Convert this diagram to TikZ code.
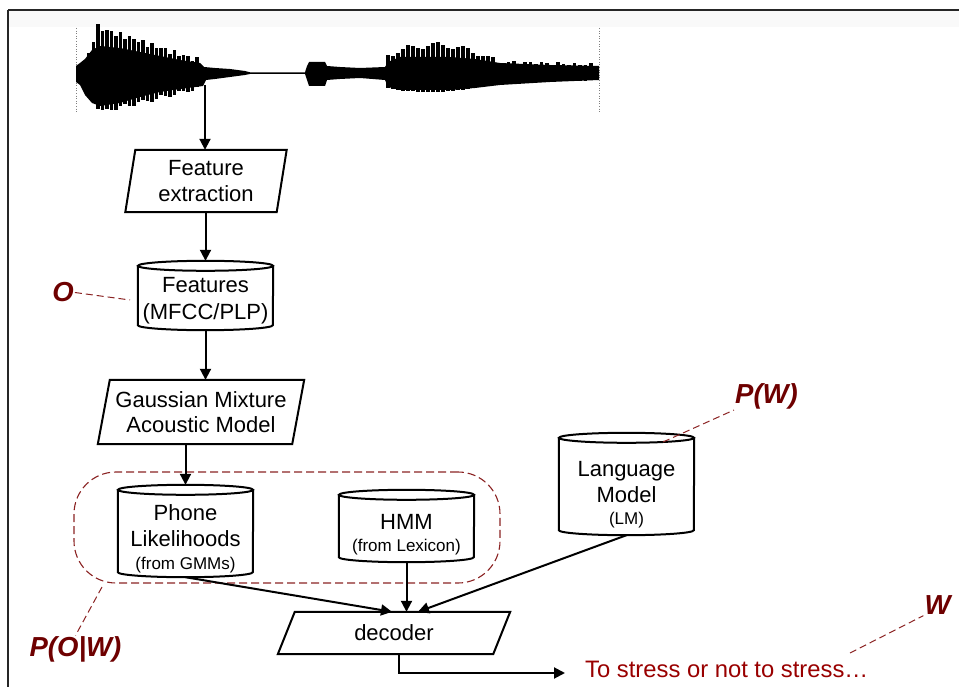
\documentclass[tikz,border=0pt]{standalone}
\usepackage{fontspec}
\setmainfont{Liberation Sans}
\usetikzlibrary{arrows.meta,calc}
\definecolor{lblred}{HTML}{6E0000}
\definecolor{dashred}{HTML}{8B2323}
\definecolor{txtred}{HTML}{990000}
\newcommand\drawcyl[2]{%
  \draw[shapeline] ([yshift=-5pt]#1.north west) -- ([yshift=5pt]#1.south west)
     arc[start angle=180,end angle=360,x radius=#2pt,y radius=5pt] -- ([yshift=-5pt]#1.north east);
  \draw[shapeline] ([yshift=-5pt]#1.north) ellipse [x radius=#2pt, y radius=5pt];}
\newcommand\drawpara[2]{%
  \draw[shapeline] ([xshift=#2pt]#1.north west) -- ([xshift=#2pt]#1.north east)
     -- ([xshift=-#2pt]#1.south east) -- ([xshift=-#2pt]#1.south west) -- cycle;}
\begin{document}
\begin{tikzpicture}[x=1pt,y=-1pt,
  shapeline/.style={line width=2pt, black},
  box/.style={inner sep=0pt, align=center, font=\fontsize{22}{26}\selectfont},
  cylbody/.style={inner sep=0pt, minimum width=135pt},
  cyltext/.style={inner sep=0pt, align=center, font=\fontsize{22}{26}\selectfont},
  arr/.style={line width=2pt, -{Triangle[length=11pt,width=11pt]}},
  lbl/.style={draw=dashred, line width=1pt, dash pattern=on 7pt off 4pt},
  redlabel/.style={text=lblred, inner sep=1pt, font=\fontsize{27.5}{30}\selectfont\bfseries\itshape},
  grpbox/.style={draw=dashred, line width=1.1pt, dash pattern=on 8pt off 4pt, rounded corners=42pt, inner sep=0pt}
]
\useasboundingbox (0,0) rectangle (959,687);
% frame
\fill[gray!5] (8,10) rectangle (959,27.5);
\draw[line width=1.4pt, black!85] (8,10) -- (959,10);
\draw[line width=1.3pt, black!85] (8,10) -- (8,687);

% waveform
\draw[gray, line width=0.6pt, dotted] (76,28) -- (76,113);
\draw[gray, line width=0.6pt, dotted] (599,28) -- (599,113);
\fill[black] (76,66) -- (80,63) -- (85,59) -- (92,50) -- (100,46) -- (120,48) -- (140,52) -- (160,56)
  -- (180,60) -- (200,63) -- (204,67) -- (215,68) -- (230,69) -- (245,71) -- (250,72.3) -- (305,72.3)
  -- (307,66) -- (309,62) -- (325,62) -- (327,66) -- (340,67) -- (360,68) -- (385,67) -- (388,62)
  -- (400,57) -- (450,57) -- (475,59) -- (500,63) -- (550,65) -- (599,66)
  -- (599,80) -- (550,82) -- (500,85) -- (475,88) -- (450,90) -- (400,90) -- (388,87) -- (385,80)
  -- (360,78) -- (340,79) -- (327,80) -- (325,86) -- (309,86) -- (307,80) -- (305,74) -- (250,74)
  -- (245,75) -- (230,77) -- (215,79) -- (206,80) -- (203,86) -- (180,89) -- (160,92) -- (140,97)
  -- (120,103) -- (100,106) -- (92,103) -- (85,95) -- (80,85) -- (76,82) -- cycle;
\foreach \x in {89,93.5,...,201}{
  \pgfmathsetmacro\wt{27 + max(3.5*(97-\x), 0.33*(\x-97)) + 3*sin(\x*47)}
  \pgfmathsetmacro\wb{112 - max(2*(100-\x), 0.24*(\x-100)) - 2*sin(\x*61)}
  \fill[black] (\x-1.6,\wt) rectangle (\x+1.6,\wb);
}
\foreach \x in {388,393,...,498}{
  \pgfmathsetmacro\wt{45 + 0.0045*(\x-435)*(\x-435) + 3*sin(\x*13)}
  \pgfmathsetmacro\wb{92 - 0.002*(\x-430)*(\x-430)}
  \fill[black] (\x-1.6,\wt) rectangle (\x+1.6,\wb);
}
\foreach \x in {503,508.5,...,598}{
  \pgfmathsetmacro\wt{62 + 0.03*(\x-503) + 1.5*sin(\x*23)}
  \pgfmathsetmacro\wb{83 - 0.03*(\x-503)}
  \fill[black] (\x-1.6,\wt) rectangle (\x+1.6,\wb);
}
\coordinate (wav) at (205,85);

% nodes
\node[box, minimum width=151pt, minimum height=62pt] (fe) at (206,181) {Feature\\extraction};
\drawpara{fe}{5}
\node[cylbody, minimum height=69pt] (feat) at (205.5,295.5) {};
\drawcyl{feat}{67.5}
\node[cyltext] at (205.5,301) {Features\\[1pt](MFCC/PLP)};

\node[box, minimum width=194pt, minimum height=64pt] (gmm) at (201,412) {Gaussian Mixture\\[-1pt]Acoustic Model};
\drawpara{gmm}{6}

\node[grpbox, minimum width=426pt, minimum height=111pt] (grp) at (287,527.5) {};

\node[cylbody, minimum height=92pt] (phone) at (185.5,531) {};
\drawcyl{phone}{67.5}
\node[cyltext] at (185.5,538.3) {Phone\\Likelihoods\\[-3pt]{\fontsize{17}{20}\selectfont (from GMMs)}};

\node[cylbody, minimum height=72pt] (hmm) at (406.5,526) {};
\drawcyl{hmm}{67.5}
\node[cyltext] at (406.5,535) {HMM\\[-4pt]{\fontsize{17}{20}\selectfont (from Lexicon)}};

\node[cylbody, minimum height=102pt] (lm) at (626.5,484) {};
\drawcyl{lm}{67.5}
\node[cyltext] at (626.5,495) {Language\\Model\\[-4pt]{\fontsize{17}{20}\selectfont (LM)}};

\node[box, minimum width=215pt, minimum height=42pt] (dec) at (394,633) {decoder};
\drawpara{dec}{8.5}

\node[anchor=base west, inner sep=0pt, text=txtred] (out) at (585,677)
  {\resizebox{283pt}{!}{To stress or not to stress…}};
\coordinate (outend) at (565,673);

% arrows
\draw[arr] (wav) -- (wav |- fe.north);
\draw[arr] (fe.south -| feat.north) -- (feat.north);
\draw[arr] (feat.south) -- (feat.south |- gmm.north);
\draw[arr] (gmm.south -| phone.north) -- (phone.north);
\draw[arr] (phone.south) -- ([xshift=-2pt]dec.north);
\draw[arr] (hmm.south) -- (hmm.south |- dec.north);
\draw[arr] (lm.south) -- ([xshift=24pt]dec.north);
\draw[arr] ([xshift=5pt]dec.south) |- (outend);

% red labels
\node[redlabel] (olab) at (63,292.5) {O};
\coordinate (oend) at (130,300);
\draw[lbl] (olab.east) -- (oend);

\node[redlabel] (powlab) at (75.5,649.5) {P(O|W)};
\coordinate (grpend) at (102,587);
\draw[lbl] (grpend) -- (powlab.north);

\node[redlabel] (pwlab) at (766.5,396) {P(W)};
\coordinate (pwend) at (663,442);
\draw[lbl] (pwend) -- (pwlab.south west);

\node[redlabel] (wlab) at (937.5,605) {W};
\coordinate (wend) at (850,653);
\draw[lbl] (wend) -- (wlab.south west);
\end{tikzpicture}
\end{document}
